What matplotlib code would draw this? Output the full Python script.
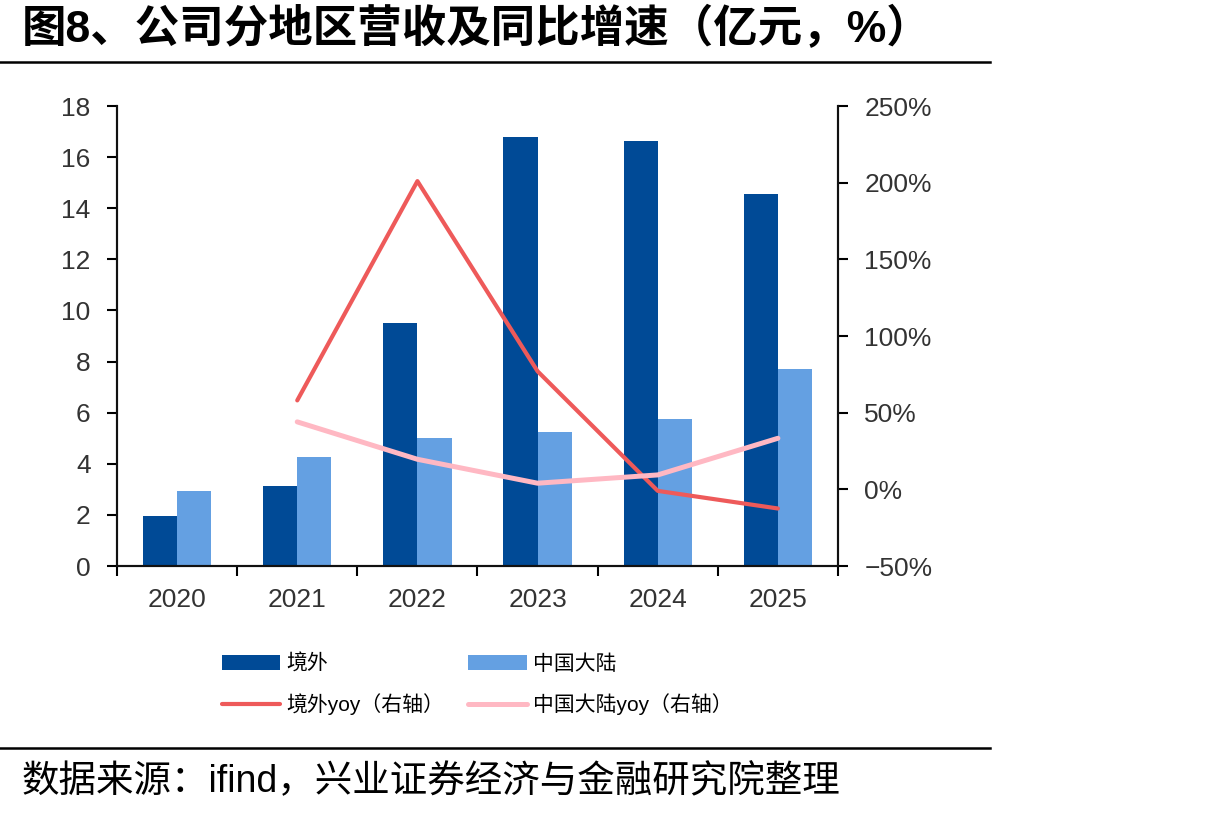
import numpy as np
import matplotlib
matplotlib.use("Agg")
import matplotlib.pyplot as plt
from matplotlib.lines import Line2D
from matplotlib.ticker import FixedLocator, FuncFormatter

plt.rcParams['font.family'] = ['Liberation Sans', 'Noto Sans CJK SC', 'DejaVu Sans']

years = ['2020', '2021', '2022', '2023', '2024', '2025']
overseas = [1.97, 3.14, 9.52, 16.77, 16.65, 14.57]
mainland = [2.95, 4.25, 5.02, 5.23, 5.74, 7.70]
overseas_yoy = [np.nan, 58.0, 201.0, 77.0, -1.0, -12.5]
mainland_yoy = [np.nan, 44.0, 19.6, 4.0, 9.4, 33.3]

c_dark = '#004A96'
c_light = '#64A0E2'
c_red = '#EE5A5A'
c_pink = '#FFB8C3'

fig = plt.figure(figsize=(12.05, 8.16), dpi=100)
ax = fig.add_axes([117 / 1205, 1 - 566 / 816, (838 - 117) / 1205, (566 - 106) / 816])
ax2 = ax.twinx()

x = np.arange(len(years))
w = 0.285
b1 = ax.bar(x - w / 2, overseas, w, color=c_dark, label='境外', zorder=2)
b2 = ax.bar(x + w / 2, mainland, w, color=c_light, label='中国大陆', zorder=2)
l1, = ax2.plot(x, overseas_yoy, color=c_red, lw=3.0, solid_capstyle='round',
               label='境外yoy（右轴）')
l2, = ax2.plot(x, mainland_yoy, color=c_pink, lw=3.6, solid_capstyle='round',
               label='中国大陆yoy（右轴）')
ax2.set_zorder(ax.get_zorder() + 1)

ax.set_xlim(-0.5, len(years) - 0.5)
ax.set_ylim(0, 18)
ax.set_yticks(np.arange(0, 19, 2))
ax2.set_ylim(-50, 250)
ax2.set_yticks(np.arange(-50, 251, 50))
ax2.yaxis.set_major_formatter(FuncFormatter(lambda v, p: f'{v:.0f}%'.replace('-', '\u2212')))

ax.xaxis.set_major_locator(FixedLocator(np.arange(-0.5, len(years), 1.0)))
ax.xaxis.set_major_formatter(FuncFormatter(lambda v, p: ''))
ax.xaxis.set_minor_locator(FixedLocator(x))
ax.set_xticklabels(years, minor=True)
ax.tick_params(axis='x', which='major', length=7, width=1.5, direction='out')
ax.tick_params(axis='x', which='minor', length=0, pad=16, labelsize=19, labelcolor='#333333')
ax.tick_params(axis='y', length=7, width=1.5, direction='out', pad=12, labelsize=19,
               labelcolor='#333333')
ax2.tick_params(axis='y', length=7, width=1.5, direction='out', pad=12, labelsize=19,
                labelcolor='#333333')

for a in (ax, ax2):
    a.spines['top'].set_visible(False)
    for s in ('left', 'right', 'bottom'):
        a.spines[s].set_linewidth(1.5)
        a.spines[s].set_color('#111111')

fig.legend([b1, l1, b2, l2],
           ['境外', '境外yoy（右轴）', '中国大陆', '中国大陆yoy（右轴）'],
           ncol=2, loc='upper left', bbox_to_anchor=(203 / 1205, 1 - 635 / 816),
           frameon=False, fontsize=15, handlelength=2.8, handleheight=0.7,
           handletextpad=0.3, columnspacing=1.15, labelspacing=0.95)

fig.text(22 / 1205, 1 - 29 / 816, '图8、公司分地区营收及同比增速（亿元，%）',
         fontsize=32, fontweight='bold', va='center', ha='left',
         family=['Liberation Sans', 'Noto Sans CJK SC'])
fig.text(22 / 1205, 1 - 782 / 816, '数据来源：ifind，兴业证券经济与金融研究院整理',
         fontsize=27, va='center', ha='left')
fig.add_artist(Line2D([0, 990 / 1205], [1 - 62 / 816] * 2, color='black', lw=1.8))
fig.add_artist(Line2D([0, 990 / 1205], [1 - 748 / 816] * 2, color='black', lw=1.8))

fig.savefig('out.png', dpi=100)
